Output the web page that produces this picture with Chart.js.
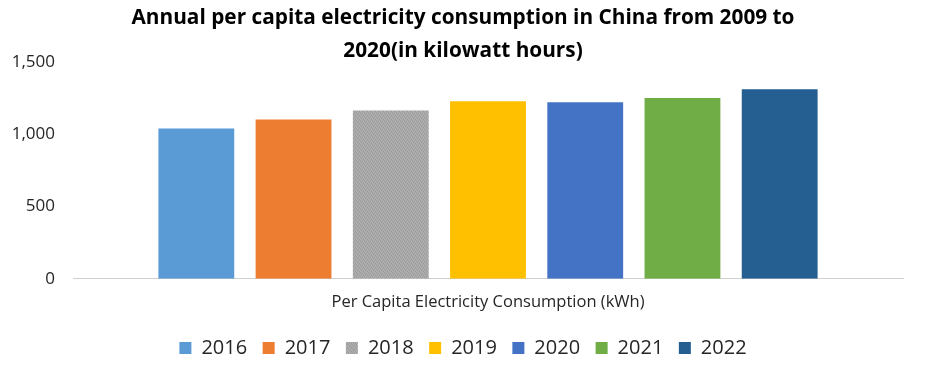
<!DOCTYPE html>
<html>
<head>
<meta charset="utf-8">
<script src="https://cdn.jsdelivr.net/npm/chart.js@4/dist/chart.umd.min.js"></script>
<style>
  html, body { margin: 0; padding: 0; background: #ffffff; }
  #wrap { width: 926px; height: 380px; }
</style>
</head>
<body>
<div id="wrap"><canvas id="c" width="926" height="380"></canvas></div>
<script>
const categories = ["Per Capita Electricity Consumption (kWh)"];
const years = ["2016", "2017", "2018", "2019", "2020", "2021", "2022"];
const values = [1040, 1102, 1165, 1229, 1222, 1250, 1312];
const yTicks = [0, 500, 1000, 1500];
const colors = ["#5B9BD5", "#ED7D31", "#A5A5A5", "#FFC000", "#4472C4", "#70AD47", "#255E91"];

function makePattern() {
  const p = document.createElement("canvas");
  p.width = 4; p.height = 4;
  const g = p.getContext("2d");
  g.fillStyle = "#a7a7a7"; g.fillRect(0, 0, 4, 4);
  g.fillStyle = "#9c9c9c";
  g.fillRect(0, 0, 1, 1); g.fillRect(2, 1, 1, 1); g.fillRect(1, 2, 1, 1); g.fillRect(3, 3, 1, 1);
  g.fillStyle = "#b2b2b2";
  g.fillRect(1, 0, 1, 1); g.fillRect(3, 1, 1, 1); g.fillRect(0, 3, 1, 1); g.fillRect(2, 2, 1, 1);
  return document.getElementById("c").getContext("2d").createPattern(p, "repeat");
}
const pattern = makePattern();

const datasets = years.map((y, i) => ({
  label: y,
  data: [values[i]],
  backgroundColor: i === 2 ? pattern : colors[i],
  borderWidth: 0,
  categoryPercentage: 0.82,
  barPercentage: 0.78
}));

const FONT = "'Open Sans', sans-serif";

// keep title and legend centred on the full canvas (equal side margins)
const centerBoxes = {
  id: "centerBoxes",
  afterLayout(chart) {
    [chart.titleBlock, chart.legend].forEach(b => {
      if (b) { b.left = 23; b.right = chart.width - 23; b.width = b.right - b.left; }
    });
  }
};

new Chart(document.getElementById("c"), {
  type: "bar",
  data: { labels: categories, datasets },
  plugins: [centerBoxes],
  options: {
    responsive: false,
    animation: false,
    devicePixelRatio: 1,
    layout: { padding: { left: 0, right: 23, top: 2, bottom: 12 } },
    plugins: {
      title: {
        display: true,
        text: ["Annual per capita electricity consumption in China from 2009 to", "2020(in kilowatt hours)"],
        color: "#000000",
        font: { family: FONT, size: 20.8, weight: "bold", lineHeight: "33px" },
        padding: { top: 0, bottom: -6 }
      },
      legend: {
        position: "bottom",
        labels: {
          color: "#262626",
          font: { family: FONT, size: 20 },
          boxWidth: 12,
          boxHeight: 12,
          padding: 15.5,
          generateLabels(chart) {
            return chart.data.datasets.map((d, i) => ({
              text: d.label,
              fillStyle: i === 2 ? pattern : colors[i],
              strokeStyle: "rgba(0,0,0,0)",
              lineWidth: 0,
              datasetIndex: i,
              fontColor: "#262626"
            }));
          }
        }
      },
      tooltip: { enabled: false }
    },
    scales: {
      x: {
        grid: { display: false, drawTicks: false },
        border: { display: true, color: "#d0d0d0", width: 1, dash: [2, 1] },
        ticks: { color: "#262626", font: { family: FONT, size: 16.5 }, padding: 14 },
        afterFit(scale) { scale.height -= 4; }
      },
      y: {
        min: 0,
        max: 1500,
        afterBuildTicks(axis) { axis.ticks = yTicks.map(v => ({ value: v })); },
        grid: { display: false, drawTicks: false },
        border: { display: false },
        ticks: { color: "#262626", font: { family: FONT, size: 17 }, padding: 18 },
        afterFit(scale) { scale.width = 73; }
      }
    }
  }
});
</script>
</body>
</html>
